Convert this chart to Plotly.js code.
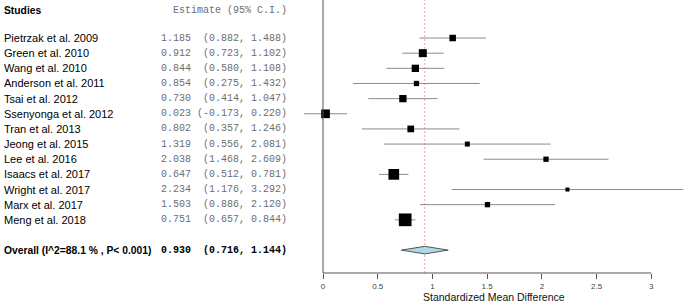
<!DOCTYPE html>
<html>
<head>
<meta charset="utf-8">
<script src="https://cdn.plot.ly/plotly-3.0.1.min.js"></script>
<style>html,body{margin:0;padding:0;background:#fff;}#chart{width:685px;height:303px;}</style>
</head>
<body>
<div id="chart"></div>
<script>
// ---- data ----
const studies = ["Pietrzak et al. 2009","Green et al. 2010","Wang et al. 2010","Anderson et al. 2011","Tsai et al. 2012","Ssenyonga et al. 2012","Tran et al. 2013","Jeong et al. 2015","Lee et al. 2016","Isaacs et al. 2017","Wright et al. 2017","Marx et al. 2017","Meng et al. 2018"];
const estimate = [1.185,0.912,0.844,0.854,0.730,0.023,0.802,1.319,2.038,0.647,2.234,1.503,0.751];
const ciLow    = [0.882,0.723,0.580,0.275,0.414,-0.173,0.357,0.556,1.468,0.512,1.176,0.886,0.657];
const ciHigh   = [1.488,1.102,1.108,1.432,1.047,0.220,1.246,2.081,2.609,0.781,3.292,2.120,0.844];
const overallLabel = "Overall (I^2=88.1 % , P< 0.001)";
const overallEst = 0.930, overallLow = 0.716, overallHigh = 1.144;
const tickVals = [0,0.5,1,1.5,2,2.5,3];
const tickText = ["0","0.5","1","1.5","2","2.5","3"];
const xTitle = "Standardized Mean Difference";

// ---- styles ----
const boxSizes = [6.5,8,7.3,5.3,7.3,8.7,6.7,5,5.3,10.7,4,5.3,12.7];
const W = 685, H = 303, plotBottom = 30;
const zeroPx = 323, unitPx = 109.43;
const xRange = [-zeroPx/unitPx, (W-zeroPx)/unitPx];
const yRange = [15.51, -2.51];
const overallRow = studies.length + 1;
const NB = "\u00A0";

function fmt(v){ return v.toFixed(3); }
function estText(e,l,h){
  const ci = "(" + fmt(l) + "," + NB + fmt(h) + ")";
  return fmt(e) + NB + ci.padStart(15, NB);
}

const traces = [];
// CI lines
studies.forEach((s,i)=>{
  traces.push({x:[ciLow[i],ciHigh[i]], y:[i,i], mode:'lines', type:'scatter',
    line:{color:'#8c8c8c', width:1}, hoverinfo:'skip', showlegend:false, cliponaxis:false});
});
// boxes
traces.push({x:estimate, y:studies.map((s,i)=>i), mode:'markers', type:'scatter',
  marker:{symbol:'square', size:boxSizes, color:'#000', opacity:1, line:{width:0}}, showlegend:false, hoverinfo:'skip'});
// diamond
const dh = 0.25;
traces.push({x:[overallLow, overallEst, overallHigh, overallEst, overallLow],
  y:[overallRow, overallRow-dh, overallRow, overallRow+dh, overallRow],
  mode:'lines', type:'scatter', fill:'toself', fillcolor:'#add8e6',
  line:{color:'#555', width:1}, showlegend:false, hoverinfo:'skip'});

const annotations = [];
const nameX = 2/W, estX = 289/W;
const sans = 'Liberation Sans, Arial', mono = 'Liberation Mono, Courier New, monospace';
annotations.push({xref:'paper', yref:'y', x:nameX, y:-1.85, xanchor:'left', yanchor:'middle', showarrow:false,
  text:'<b>Studies</b>', font:{family:sans, size:10.3, color:'#000'}});
annotations.push({xref:'paper', yref:'y', x:estX, y:-1.85, xanchor:'right', yanchor:'middle', showarrow:false,
  text:'Estimate' + NB + '(95%' + NB + 'C.I.)', font:{family:mono, size:10, color:'#6e6e6e'}});
studies.forEach((s,i)=>{
  annotations.push({xref:'paper', yref:'y', x:nameX, y:i, xanchor:'left', yanchor:'middle', showarrow:false,
    text:s, font:{family:sans, size:11, color:'#000'}});
  annotations.push({xref:'paper', yref:'y', x:estX, y:i, xanchor:'right', yanchor:'middle', showarrow:false,
    text:estText(estimate[i],ciLow[i],ciHigh[i]), font:{family:mono, size:10, color:'#6e6e6e'}});
});
annotations.push({xref:'paper', yref:'y', x:nameX, y:overallRow, xanchor:'left', yanchor:'middle', showarrow:false,
  text:'<b>' + overallLabel + '</b>', font:{family:sans, size:10.3, color:'#000'}});
annotations.push({xref:'paper', yref:'y', x:estX, y:overallRow, xanchor:'right', yanchor:'middle', showarrow:false,
  text:'<b>' + estText(overallEst,overallLow,overallHigh) + '</b>', font:{family:mono, size:10, color:'#000'}});
annotations.push({xref:'paper', yref:'paper', x:494/W, y:-(297-(H-plotBottom))/(H-plotBottom), xanchor:'center', yanchor:'middle', showarrow:false,
  text:xTitle, font:{family:sans, size:10.5, color:'#111'}});

const shapes = [
  {type:'line', layer:'below', xref:'x', yref:'paper', x0:overallEst, x1:overallEst, y0:0, y1:1,
   line:{color:'#f4a0a0', width:1, dash:'2px,2px'}},
  {type:'line', xref:'x', yref:'paper', x0:0, x1:0, y0:0, y1:1, line:{color:'#555', width:1}},
  {type:'line', xref:'x', yref:'paper', x0:tickVals[0], x1:tickVals[tickVals.length-1], y0:0, y1:0, line:{color:'#555', width:1}}
];

const layout = {
  width:W, height:H, margin:{l:0,r:0,t:0,b:plotBottom,pad:0},
  paper_bgcolor:'#fff', plot_bgcolor:'#fff', showlegend:false,
  xaxis:{range:xRange, showgrid:false, zeroline:false, showline:false, tickvals:tickVals, ticktext:tickText,
    ticks:'outside', ticklen:5, tickcolor:'#555', tickwidth:1, tickfont:{family:sans, size:8, color:'#444'}, fixedrange:true},
  yaxis:{range:yRange, showgrid:false, zeroline:false, showline:false, showticklabels:false, ticks:'', fixedrange:true},
  annotations:annotations, shapes:shapes
};
Plotly.newPlot('chart', traces, layout, {staticPlot:true, displayModeBar:false});
</script>
</body>
</html>
